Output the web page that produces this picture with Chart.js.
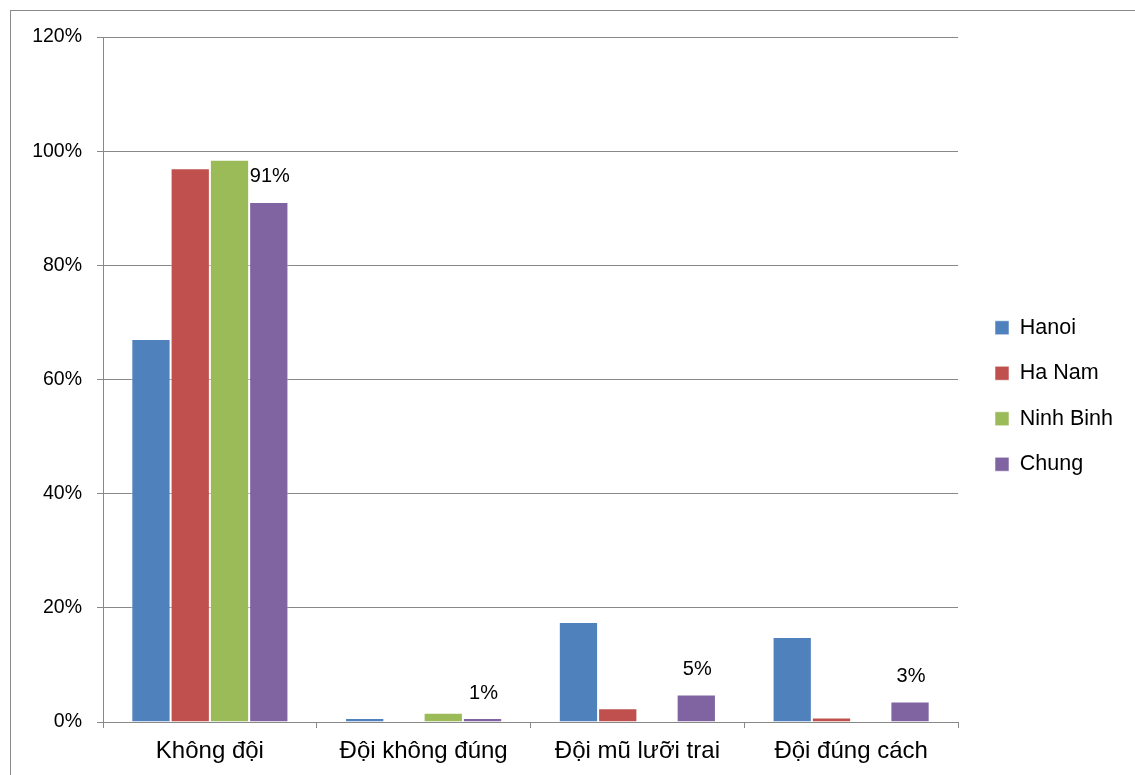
<!DOCTYPE html>
<html lang="vi">
<head>
  <meta charset="UTF-8" />
  <title>Đội mũ</title>
  <style>
    * { box-sizing: border-box; margin: 0; padding: 0; }
    body { width: 1135px; height: 775px; overflow: hidden; background: #fff; position: relative; }
    .frame {
      position: absolute; left: 10px; top: 10px; width: 1200px; height: 900px;
      border: 1px solid #8a8a8a;
    }
    .wrap { position: absolute; left: 0; top: 0; width: 1135px; height: 775px; }
  </style>
  <script src="https://cdn.jsdelivr.net/npm/chart.js"></script>
</head>
<body>
  <div class="frame"></div>
  <div class="wrap"><canvas id="chart" width="1135" height="775"></canvas></div>

  <script>
    const categories = ['Không đội', 'Đội không đúng', 'Đội mũ lưỡi trai', 'Đội đúng cách'];
    const hanoi     = [67.1, 0.7, 17.5, 14.9];
    const haNam     = [97.0, 0, 2.4, 0.8];
    const ninhBinh  = [98.5, 1.6, 0, 0];
    const chung     = [91.1, 0.7, 4.8, 3.6];
    const chungLabels = ['91%', '1%', '5%', '3%'];
    const yTicks = [0, 20, 40, 60, 80, 100, 120];

    const gridColor = '#888888';

    // values over the "Chung" bars
    const chungLabelPlugin = {
      id: 'chungLabels',
      afterDatasetsDraw(chart) {
        const meta = chart.getDatasetMeta(3);
        const ctx = chart.ctx;
        ctx.save();
        ctx.font = '20px "Liberation Sans", Arial, sans-serif';
        ctx.fillStyle = '#000';
        ctx.textAlign = 'center';
        ctx.textBaseline = 'middle';
        meta.data.forEach((bar, i) => {
          ctx.fillText(chungLabels[i], bar.x + 1, bar.y - 25);
        });
        ctx.restore();
      }
    };

    // keep the legend a fixed width, nudge it to where it sits in the picture
    const legendPlace = {
      id: 'legendPlace',
      beforeLayout(chart) {
        const lg = chart.legend;
        if (lg && !lg._fixed) {
          const fit = lg.fit.bind(lg);
          lg.fit = function () { fit(); this.width = 177; };
          lg._fixed = true;
        }
      },
      afterLayout(chart) {
        const lg = chart.legend;
        lg.left += 13; lg.right += 13;
        lg.top -= 10; lg.bottom -= 10;
      }
    };

    new Chart(document.getElementById('chart'), {
      type: 'bar',
      data: {
        labels: categories,
        datasets: [
          { label: 'Hanoi', data: hanoi, backgroundColor: '#4F81BD' },
          { label: 'Ha Nam', data: haNam, backgroundColor: '#C0504D' },
          { label: 'Ninh Binh', data: ninhBinh, backgroundColor: '#9BBB59' },
          { label: 'Chung', data: chung, backgroundColor: '#8064A2' }
        ].map(d => Object.assign(d, {
          borderColor: 'rgba(255,255,255,0.55)',
          borderWidth: 1,
          categoryPercentage: 0.735,
          barPercentage: 1.0
        }))
      },
      options: {
        responsive: false,
        animation: false,
        layout: { padding: { top: 37, left: 10, right: 0, bottom: 0 } },
        scales: {
          x: {
            grid: {
              offset: true,
              drawOnChartArea: false,
              color: gridColor,
              tickLength: 6
            },
            border: { color: gridColor },
            ticks: {
              color: '#000',
              padding: 9,
              font: { family: '"Liberation Sans", Arial, sans-serif', size: 24 }
            },
            afterFit(scale) { scale.height = 53; }
          },
          y: {
            min: 0,
            max: 120,
            afterBuildTicks(scale) { scale.ticks = yTicks.map(v => ({ value: v })); },
            grid: { color: gridColor, tickLength: 6 },
            border: { color: gridColor },
            ticks: {
              color: '#000',
              padding: 15,
              font: { family: '"Liberation Sans", Arial, sans-serif', size: 19.5 },
              callback: v => v + '%'
            },
            afterFit(scale) { scale.width = 93; }
          }
        },
        plugins: {
          legend: {
            position: 'right',
            labels: {
              color: '#000',
              boxWidth: 14,
              boxHeight: 14,
              padding: 24,
              font: { family: '"Liberation Sans", Arial, sans-serif', size: 21.5 }
            }
          },
          tooltip: { enabled: false }
        }
      },
      plugins: [chungLabelPlugin, legendPlace]
    });
  </script>
</body>
</html>
